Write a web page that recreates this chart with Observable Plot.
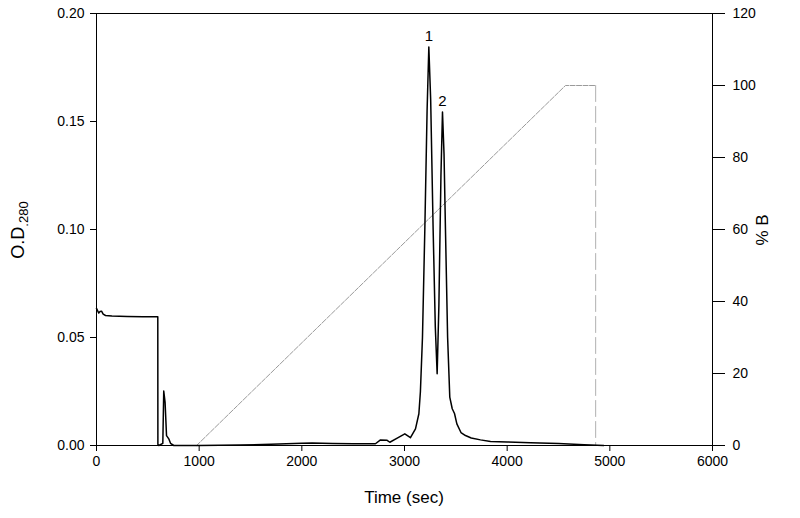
<!DOCTYPE html>
<html><head><meta charset="utf-8">
<script src="https://cdn.jsdelivr.net/npm/d3@7"></script>
<script src="https://cdn.jsdelivr.net/npm/@observablehq/plot@0.6"></script>
<style>body{margin:0;background:#fff} svg{font-family:"Liberation Sans",Arial,sans-serif}</style>
</head><body><div id="chart"></div>
<script>
// Absorbance trace (time in sec, O.D. 280)
const timeSec = [0, 10, 22, 35, 49, 65, 88, 150, 300, 450, 597, 598, 607, 646, 655, 668, 682, 704, 721, 753, 1000, 1400, 1700, 2000, 2100, 2300, 2500, 2717, 2766, 2831, 2857, 2929, 3003, 3058, 3107, 3140, 3155, 3175, 3198, 3220, 3237, 3255, 3279, 3300, 3318, 3335, 3355, 3370, 3385, 3399, 3420, 3441, 3465, 3487, 3510, 3550, 3594, 3650, 3740, 3838, 4000, 4227, 4500, 4750, 4941];
const odValue = [0.0635, 0.0625, 0.0613, 0.0620, 0.0622, 0.0608, 0.0602, 0.0599, 0.0597, 0.0596, 0.0596, 0.0005, 0.0, 0.001, 0.0252, 0.020, 0.0046, 0.0031, 0.001, 0.0, 0.0, 0.0002, 0.0006, 0.0010, 0.0012, 0.0009, 0.0008, 0.0008, 0.0026, 0.0024, 0.0015, 0.0034, 0.0054, 0.0036, 0.0077, 0.0147, 0.025, 0.05, 0.10, 0.155, 0.1845, 0.16, 0.10, 0.055, 0.0332, 0.065, 0.125, 0.1544, 0.135, 0.10, 0.05, 0.0224, 0.017, 0.0148, 0.010, 0.006, 0.0046, 0.0035, 0.0026, 0.0018, 0.0016, 0.0013, 0.0009, 0.0004, 0.0];
// Gradient (% B)
const rampTime = [975, 4568, 4862];
const rampPct = [0, 100, 100];
const dropTime = [4862, 4862];
const dropPct = [100, 0];
// Peak labels
const peakTime = [3237, 3370];
const peakOD = [0.1845, 0.1544];
const peakLabel = ["1", "2"];
// Ticks
const xTicks = [0, 1000, 2000, 3000, 4000, 5000, 6000];
const odTicks = [0, 0.05, 0.10, 0.15, 0.20];
const pctTicks = [0, 20, 40, 60, 80, 100, 120];
const odMax = 0.2, pctMax = 120;
const toOD = p => p * odMax / pctMax;

const trace = timeSec.map((t, i) => ({t, v: odValue[i]}));
const ramp = rampTime.map((t, i) => ({t, v: toOD(rampPct[i])}));
const drop = dropTime.map((t, i) => ({t, v: toOD(dropPct[i])}));
const peaks = peakTime.map((t, i) => ({t, v: peakOD[i], s: peakLabel[i]}));

const plot = Plot.plot({
  width: 800, height: 518,
  marginLeft: 96, marginRight: 88, marginTop: 13, marginBottom: 73,
  x: {domain: [0, 6000]},
  y: {domain: [0, odMax]},
  style: {fontFamily: "'Liberation Sans', Arial, sans-serif", fontSize: "14px", color: "black", background: "white"},
  marks: [
    Plot.line(ramp, {x: "t", y: "v", stroke: "#9a9a9a", strokeWidth: 1, strokeDasharray: "5,1.5"}),
    Plot.line(drop, {x: "t", y: "v", stroke: "#b0b0b0", strokeWidth: 1, strokeDasharray: "16,5"}),
    Plot.line(trace, {x: "t", y: "v", stroke: "black", strokeWidth: 1.5, curve: "linear"}),
    Plot.text(peaks, {x: "t", y: "v", text: "s", dy: -11, fontSize: 15, fill: "black"}),
    Plot.frame({stroke: "black", strokeWidth: 1}),
    Plot.axisX({ticks: xTicks, tickSize: 6, tickPadding: 5, tickFormat: d => String(d), label: null, fontSize: 14}),
    Plot.axisY({ticks: odTicks, anchor: "left", tickSize: 6, tickPadding: 6, tickFormat: d3.format(".2f"), label: null, fontSize: 14}),
    Plot.axisY({ticks: pctTicks.map(toOD), anchor: "right", tickSize: 12, tickPadding: 8, tickFormat: d => String(Math.round(d * pctMax / odMax)), label: null, fontSize: 14})
  ]
});
const svg = d3.select(plot);
svg.append("text").attr("x", 404).attr("y", 503).attr("text-anchor", "middle")
  .attr("font-size", 17).attr("fill", "black").text("Time (sec)");
svg.append("text").attr("transform", "translate(768,230) rotate(-90)").attr("text-anchor", "middle")
  .attr("font-size", 17).attr("fill", "black").text("% B");
const yl = svg.append("text").attr("transform", "translate(24,230) rotate(-90)").attr("text-anchor", "middle")
  .attr("font-size", 18).attr("fill", "black");
yl.append("tspan").text("O.D");
yl.append("tspan").attr("font-size", 13).attr("dy", 4).text(".280");
document.getElementById("chart").appendChild(plot);
</script></body></html>
